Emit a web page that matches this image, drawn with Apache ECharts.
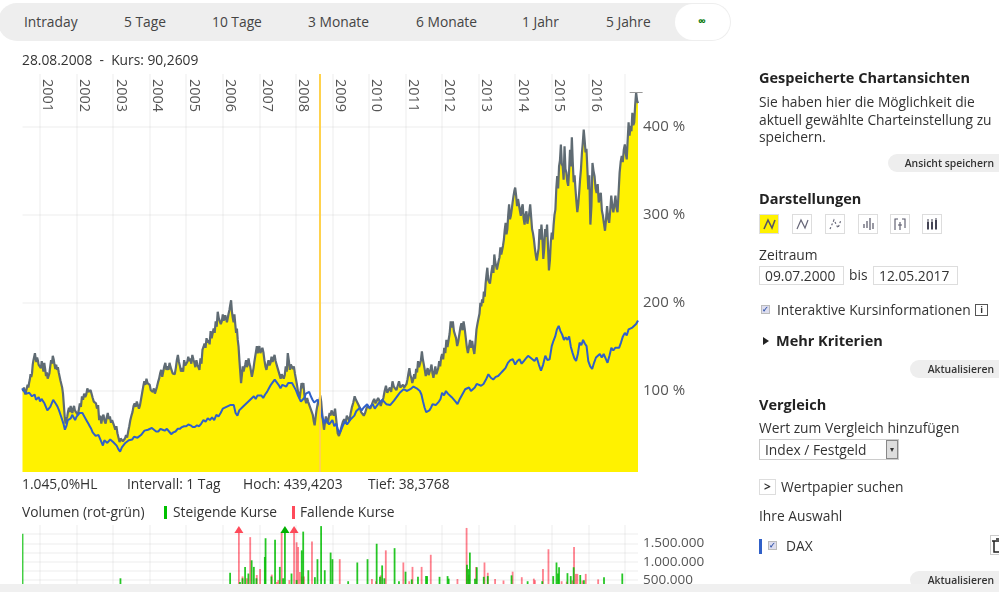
<!DOCTYPE html>
<html>
<head>
<meta charset="utf-8">
<script src="https://cdn.jsdelivr.net/npm/echarts@6/dist/echarts.min.js"></script>
<style>
html,body{margin:0;padding:0;background:#fff}
body{width:999px;height:592px;overflow:hidden;position:relative;font-family:"Open Sans",sans-serif;color:#333}
#chart{position:absolute;left:0;top:0;width:999px;height:592px}
.t{position:absolute;white-space:nowrap;line-height:20px;height:20px;font-size:13.8px}
.b{font-weight:700;color:#222;font-size:14.5px}
.tab{color:#444;top:12px}
.btn{position:absolute;background:#eee;border-radius:10px 0 0 10px;right:0;height:18px;font-size:10.4px;font-weight:600;line-height:18px;color:#333;text-align:right;padding-right:5px;box-sizing:border-box}
.inp{position:absolute;border:1px solid #ddd;box-sizing:border-box;height:19px;line-height:18px;font-size:13.8px;padding-left:5px;width:85px;top:266px}
.ic{position:absolute;top:214px;width:20px;height:20px;border:1px solid #ddd;box-sizing:border-box;background:#fff}
.cb{position:absolute;width:9px;height:9px;background:#dde;border:1px solid #bbb;box-sizing:border-box;color:#35a;font:700 8px/7px sans-serif;text-align:center}
</style>
</head>
<body>
<div id="chart"></div>

<div style="position:absolute;left:-2px;top:3px;width:733px;height:38px;background:#eee;border-radius:19px"></div>
<div style="position:absolute;left:675px;top:4px;width:55px;height:36px;background:#fff;border-radius:18px"></div>
<span class="t tab" style="left:24px">Intraday</span>
<span class="t tab" style="left:124px">5 Tage</span>
<span class="t tab" style="left:212px">10 Tage</span>
<span class="t tab" style="left:308px">3 Monate</span>
<span class="t tab" style="left:416px">6 Monate</span>
<span class="t tab" style="left:522px">1 Jahr</span>
<span class="t tab" style="left:606px">5 Jahre</span>
<span class="t" style="left:698px;top:11px;color:#0a7a0a;font-size:11px;font-weight:700">∞</span>

<span class="t" style="left:22px;top:50px">28.08.2008 &nbsp;-&nbsp; Kurs: 90,2609</span>
<span class="t" style="left:22px;top:474px">1.045,0%HL</span>
<span class="t" style="left:127px;top:474px">Intervall: 1 Tag</span>
<span class="t" style="left:243px;top:474px">Hoch: 439,4203</span>
<span class="t" style="left:368px;top:474px">Tief: 38,3768</span>
<span class="t" style="left:22px;top:502px">Volumen (rot-grün)</span>
<div style="position:absolute;left:164px;top:506px;width:3px;height:13px;background:#00c000"></div>
<span class="t" style="left:173px;top:502px">Steigende Kurse</span>
<div style="position:absolute;left:292px;top:506px;width:3px;height:13px;background:#ff4a5a"></div>
<span class="t" style="left:300px;top:502px">Fallende Kurse</span>

<span class="t b" style="left:759px;top:68px">Gespeicherte Chartansichten</span>
<span class="t" style="left:759px;top:92px">Sie haben hier die Möglichkeit die</span>
<span class="t" style="left:759px;top:110px">aktuell gewählte Charteinstellung zu</span>
<span class="t" style="left:759px;top:127px">speichern.</span>
<div class="btn" style="top:154px;width:111px">Ansicht speichern</div>

<span class="t b" style="left:759px;top:189px">Darstellungen</span>
<div class="ic" style="left:759px;background:#fff200"><svg width="18" height="18"><path d="M4 14 L8 5 L12 13 L15 5" fill="none" stroke="#556" stroke-width="1.6"/></svg></div>
<div class="ic" style="left:792px"><svg width="18" height="18"><path d="M4 14 L8 5 L12 13 L15 5" fill="none" stroke="#667" stroke-width="1.2"/></svg></div>
<div class="ic" style="left:825px"><svg width="18" height="18"><path d="M4 14 L8 5 L12 13 L15 5" fill="none" stroke="#667" stroke-width="1.2" stroke-dasharray="2 2"/></svg></div>
<div class="ic" style="left:858px"><svg width="18" height="18"><path d="M5 9V13M8 6V13M11 3V15M14 8V14" fill="none" stroke="#556" stroke-width="1.2"/></svg></div>
<div class="ic" style="left:890px"><svg width="18" height="18"><path d="M4 15V4H7M9 7V15M7 10H11M14 13V4H11" fill="none" stroke="#556" stroke-width="1.1"/></svg></div>
<div class="ic" style="left:922px"><svg width="18" height="18"><path d="M4 7H6V14H4ZM8 7H10V14H8ZM12 5H14V14H12Z" fill="#445"/><path d="M5 4V15M9 4V15M13 3V15" stroke="#445"/></svg></div>

<span class="t" style="left:759px;top:245px">Zeitraum</span>
<div class="inp" style="left:759px">09.07.2000</div>
<span class="t" style="left:849px;top:265px">bis</span>
<div class="inp" style="left:873px">12.05.2017</div>
<div class="cb" style="left:761px;top:305px">✓</div>
<span class="t" style="left:777px;top:300px">Interaktive Kursinformationen</span>
<div style="position:absolute;left:975px;top:304px;width:13px;height:12px;border:1px solid #555;box-sizing:border-box;font:700 9px/10px 'Open Sans';text-align:center">i</div>
<div style="position:absolute;left:763px;top:337px;border-left:6px solid #222;border-top:4px solid transparent;border-bottom:4px solid transparent"></div>
<span class="t b" style="left:776px;top:331px">Mehr Kriterien</span>
<div class="btn" style="top:360px;width:89px">Aktualisieren</div>

<span class="t b" style="left:759px;top:395px">Vergleich</span>
<span class="t" style="left:759px;top:418px">Wert zum Vergleich hinzufügen</span>
<div style="position:absolute;left:759px;top:439px;width:140px;height:21px;border:1px solid #ccc;box-sizing:border-box;line-height:20px;padding-left:5px;font-size:13.8px">Index / Festgeld</div>
<div style="position:absolute;left:886px;top:440px;width:12px;height:19px;background:#ddd;border:1px solid #888;box-sizing:border-box;font:8px/17px sans-serif;text-align:center">▾</div>
<div style="position:absolute;left:759px;top:479px;width:17px;height:16px;border:1px solid #ddd;box-sizing:border-box;font:700 12px/14px 'Open Sans';text-align:center">&gt;</div>
<span class="t" style="left:781px;top:477px">Wertpapier suchen</span>
<span class="t" style="left:759px;top:506px">Ihre Auswahl</span>
<div style="position:absolute;left:759px;top:539px;width:3px;height:15px;background:#3060c8"></div>
<div class="cb" style="left:768px;top:541px">✓</div>
<span class="t" style="left:786px;top:536px">DAX</span>
<div style="position:absolute;left:990px;top:535px;width:11px;height:20px;border:1px solid #ccc;box-sizing:border-box;background:#fff"><svg width="10" height="18"><path d="M1 5H10M3 5V16H10M5 3H10" fill="none" stroke="#222" stroke-width="1.5"/></svg></div>
<div class="btn" style="top:571px;width:89px">Aktualisieren</div>
<div style="position:absolute;left:0;top:584px;width:999px;height:8px;background:#f0f0f0"></div>

<script>
// Kurs (percent), one list per calendar year
var kurs2000 = [103,100,104,99,96,100,98,107,104,109,113,119,116,120,130,135,139,143,137,133,138,135,130,132]
var kurs2001 = [132,126,134,128,122,132,125,117,121,114,112,120,128,135,131,140,136,130,125,130,124,127,121,119,112,111,104,97,84,71,63,68,71,77,81,76,83,78,75,80,83,78,79]
var kurs2002 = [78,73,78,86,82,94,90,97,93,96,103,99,97,101,99,92,88,90,86,80,84,67,72,63,70,73,66,63,70,75,68,71,64,67]
var kurs2003 = [67,60,56,60,52,47,42,46,48,43,42,46,50,47,54,60,67,72,76,83,86,82,88,84,80,84,86,98,105,111,107,114,109,107]
var kurs2004 = [107,101,103,99,103,97,101,105,110,114,120,124,116,118,128,132,124,128,124,132,127,126,120,122,119,126,135,141,133,128,122,126,122,135,129]
var kurs2005 = [128,133,139,134,137,131,141,136,132,127,135,130,128,124,137,131,147,150,154,149,160,155,158,153,168,160,162,171,166,179,173,190,183,185,176,179]
var kurs2006 = [187,180,179,186,185,178,179,188,192,198,203,190,183,178,187,176,166,171,158,150,135,122,109,118,128,122,120,130,135,127,130,137,131,128,122,116,121,126,133,139,145,151,143,147]
var kurs2007 = [151,143,141,149,144,135,128,124,130,135,129,132,139,133,135,141,134,132,126,124,118,114,119,120,114,118,128,122,143,135,124,130,132,125,128,120]
var kurs2008 = [118,108,101,95,92,100,109,103,109,96,90,86,92,88,86,82,80,76,73,66,61,70,78,84,90,87,95,88,75,65,56,64,71,66,63,70,75,72,78]
var kurs2009 = [78,72,80,66,52,49,54,60,65,68,63,72,69,66,75,82,87,94,90,91,84,81,76,77,72,75,80,83]
var kurs2010 = [85,80,81,88,91,86,87,92,89,83,88,92,100,106,98,96,104,99,111,105,107,101,106,111,104,102,107,104]
var kurs2011 = [102,108,113,120,126,118,115,109,113,119,114,125,121,134,127,125,135,145,136,138,124,117,122,126,118,117,125,130,120,115,122,128,119,117,126,134,128,138]
var kurs2012 = [142,136,149,143,158,150,151,165,179,172,179,168,170,160,151,156,164,172,177,169,179,171,170,150,143,150,158,149,157,148,142,155,170,177]
var kurs2013 = [177,188,200,196,204,200,213,207,222,232,240,226,228,222,230,237,243,234,255,247,246,238,240,248,252,263,255,254,265,272,283,291,278,284,300,312,295,299,306,314,321,327]
var kurs2014 = [331,322,310,318,320,305,299,308,312,296,289,300,304,290,288,302,312,298,284,279,272,262,254,248,246,262,284,272,289,275,250,262,284,275,289,265,237,248,269]
var kurs2015 = [280,272,288,300,306,330,344,330,355,362,380,358,355,340,378,352,348,338,333,350,374,355,388,360,337,345,329,315,303,312,325,340,352,370,382,397,385,371,375,352]
var kurs2016 = [329,345,289,310,359,350,344,330,325,335,314,322,325,305,299,290,282,295,310,296,291,305,322,310,303,312,322,308,303,325,348,360,367,360,374]
var kurs2017 = [380,370,363,385,405,390,401,395,416,402,405,425,439,430,427]

// DAX compared (percent)
var dax2000 = [103,100,99,97,95,98,97,94,93,96,90,92,93]
var dax2001 = [88,91,92,86,82,78,76,82,86,90,88,85,82,78,73,68,63,56,60,67,65,69,73,70,67]
var dax2002 = [71,69,75,73,75,72,71,66,63,60,57,53,52,49,48,50,48,42,38,44,46,41,40,45,44]
var dax2003 = [42,40,38,34,31,36,38,41,40,44,46,45,48,50,47,46,50,52,55,54,56]
var dax2004 = [56,58,56,54,54,57,56,55,57,54,51,53,54,57,57,59,60]
var dax2005 = [60,62,61,59,59,61,60,63,67,65,69,67,70,67,73,71,75]
var dax2006 = [80,78,82,83,84,82,84,75,72,78,80,82,84,86,88,90,92,94,91,95]
var dax2007 = [97,95,92,96,99,103,107,110,113,111,107,103,107,109,105,109,107,109,111]
var dax2008 = [101,96,92,88,86,92,97,95,99,94,90,87,86,90,86,78,70,63,68,67,62,63]
var dax2009 = [67,60,63,56,52,57,62,66,62,64,68,66,72,77,79,81,78,81,83,85]
var dax2010 = [81,83,85,80,81,86,87,90,89,85,87,84,85,89,91,95,98,100,102]
var dax2011 = [104,100,98,102,104,105,106,103,104,100,96,88,81,76,74,78,81,85,87,84,83,88,91]
var dax2012 = [98,95,100,97,96,93,91,88,85,90,94,98,102,101,104,100,100,104,108]
var dax2013 = [109,106,108,113,119,115,113,116,117,120,123,126,132,135,136]
var dax2014 = [130,134,136,131,134,137,140,138,136,134,138,130,123,130,140,135,136]
var dax2015 = [151,157,162,170,174,168,164,158,161,158,162,150,143,137,134,142,155,152,158,154,151]
var dax2016 = [134,128,125,132,138,140,142,138,142,137,132,140,149,146,149,147,149,155,162]
var dax2017 = [166,163,170,168,172,171,176,180]

// Volumen: [decimal year, volume]
var steigend = [[2000.52,1760000],[2003.2,550000],[2006.2,700000],[2006.47,450000],[2006.54,550000],[2006.61,860000],[2006.7,680000],[2006.79,1040000],[2006.85,860000],[2006.92,550000],[2007.15,1130000],[2007.17,1640000],[2007.33,600000],[2007.43,1600000],[2007.56,860000],[2007.65,550000],[2007.7,1880000],[2007.88,680000],[2008.02,500000],[2008.16,1310000],[2008.2,1820000],[2008.34,770000],[2008.52,580000],[2008.59,1070000],[2008.69,1970000],[2008.79,770000],[2008.95,1250000],[2009,1070000],[2009.43,470000],[2009.68,980000],[2009.96,1070000],[2010.21,1490000],[2010.3,590000],[2010.36,900000],[2010.42,550000],[2010.7,1370000],[2010.82,470000],[2011,730000],[2011.17,520000],[2011.34,590000],[2011.56,610000],[2011.59,610000],[2011.93,590000],[2012.15,610000],[2012.18,540000],[2012.68,920000],[2012.72,800000],[2012.76,1250000],[2012.9,540000],[2012.95,850000],[2013.14,590000],[2013.25,610000],[2013.9,630000],[2014.34,470000],[2014.74,470000],[2015.04,610000],[2015.13,980000],[2015.17,680000],[2015.2,850000],[2015.43,690000],[2015.52,610000],[2015.6,850000],[2015.78,640000],[2015.88,500000],[2016.43,580000],[2016.93,680000]]
var fallend = [[2006.44,1880000],[2006.54,600000],[2006.66,550000],[2006.75,1670000],[2006.93,640000],[2007.02,800000],[2007.34,650000],[2007.48,450000],[2007.52,500000],[2007.61,1800000],[2007.82,500000],[2007.95,1880000],[2008.02,1530000],[2008.06,1400000],[2008.11,720000],[2008.16,600000],[2008.22,600000],[2008.44,1550000],[2009.2,1070000],[2010.08,530000],[2010.19,470000],[2010.32,630000],[2010.46,1310000],[2010.94,980000],[2011.1,470000],[2011.19,860000],[2011.44,860000],[2011.69,1190000],[2012.42,530000],[2012.67,1920000],[2012.73,650000],[2012.93,860000],[2013.16,980000],[2013.25,700000],[2013.45,530000],[2013.68,490000],[2013.93,730000],[2014.18,580000],[2014.51,540000],[2014.54,500000],[2014.76,800000],[2014.91,1340000],[2015.27,470000],[2015.41,460000],[2015.56,490000],[2015.61,1400000],[2015.66,670000],[2015.7,670000],[2015.84,490000],[2015.93,670000],[2016.27,520000]]
var pfeilRot = [[2006.44,1880000],[2007.95,1880000]]
var pfeilGruen = [[2007.7,1880000]]

var jahre = [2001,2002,2003,2004,2005,2006,2007,2008,2009,2010,2011,2012,2013,2014,2015,2016,2017]
var jahrLabels = [2001,2002,2003,2004,2005,2006,2007,2008,2009,2010,2011,2012,2013,2014,2015,2016]
var prozentTicks = [100,200,300,400]
var volumenLinien = [500000,750000,1000000,1250000,1500000,1750000]
var volumenLabels = [500000,1000000,1500000]
var markiert = 2008.66

var start = 2000.52, ende = 2017.36

// spread each year's readings evenly over that year
function reihe(listen) {
    var out = []
    listen.forEach(function (l, i) {
        var letzte = i == listen.length - 1
        var von = i == 0 ? start : 2000 + i
        var bis = letzte ? ende : 2001 + i
        l.forEach(function (v, j) {
            out.push([von + (bis - von) * j / (letzte ? l.length - 1 : l.length), v])
        })
    })
    return out
}
var kursDaten = reihe([kurs2000,kurs2001,kurs2002,kurs2003,kurs2004,kurs2005,kurs2006,kurs2007,kurs2008,kurs2009,kurs2010,kurs2011,kurs2012,kurs2013,kurs2014,kurs2015,kurs2016,kurs2017])
var daxDaten = reihe([dax2000,dax2001,dax2002,dax2003,dax2004,dax2005,dax2006,dax2007,dax2008,dax2009,dax2010,dax2011,dax2012,dax2013,dax2014,dax2015,dax2016,dax2017])

var linie = {show: true, lineStyle: {color: 'rgba(0,0,0,0.05)', width: 1.5}}
var fontFam = '"Open Sans", sans-serif'

var chart = echarts.init(document.getElementById('chart'))
chart.setOption({
    animation: false,
    grid: [
        {left: 22.5, top: 74, width: 615.5, height: 398, outerBoundsMode: 'none'},
        {left: 22.5, top: 525, width: 615.5, height: 73.5, outerBoundsMode: 'none'}
    ],
    xAxis: [
        {
            type: 'value', gridIndex: 0, min: start, max: ende, position: 'top', z: 3,
            axisLine: {show: false},
            axisTick: {show: false, customValues: jahre},
            splitLine: linie,
            axisLabel: {
                inside: true, rotate: 90, margin: 5, align: 'left', verticalAlign: 'bottom',
                customValues: jahrLabels, formatter: function (v) { return String(v) },
                color: '#555', fontSize: 14.5, fontFamily: fontFam
            }
        },
        {
            type: 'value', gridIndex: 1, min: start, max: ende, z: 3,
            axisLine: {show: false},
            axisTick: {show: false, customValues: jahre},
            axisLabel: {show: false},
            splitLine: linie
        }
    ],
    yAxis: [
        {
            type: 'value', gridIndex: 0, min: 8, max: 460, position: 'right', z: 3,
            axisLine: {show: false},
            axisTick: {show: false, customValues: prozentTicks},
            splitLine: linie,
            axisLabel: {
                customValues: prozentTicks, formatter: '{value} %', margin: 5,
                color: '#555', fontSize: 15, fontFamily: fontFam
            }
        },
        {
            type: 'value', gridIndex: 1, min: 0, max: 2000000, position: 'right', z: 3,
            axisLine: {show: false},
            axisTick: {show: false, customValues: volumenLinien},
            splitLine: linie,
            axisLabel: {
                customValues: volumenLabels, margin: 5, color: '#555', fontSize: 13.5, fontFamily: fontFam,
                formatter: function (v) { return String(v).replace(/\B(?=(\d{3})+$)/g, '.') }
            }
        }
    ],
    series: [
        {
            name: 'Kurs', type: 'line', data: kursDaten, showSymbol: false,
            lineStyle: {color: '#5f6b73', width: 2.2},
            itemStyle: {color: '#5f6b73'},
            areaStyle: {color: '#fff200', opacity: 1},
            markLine: {
                silent: true, symbol: 'none', label: {show: false},
                lineStyle: {color: '#ffd24d', width: 2, type: 'solid'},
                data: [{xAxis: markiert}]
            },
            markPoint: {
                silent: true, symbol: 'rect', symbolSize: [13, 1], label: {show: false},
                itemStyle: {color: '#999'},
                data: [{type: 'max'}]
            }
        },
        {
            name: 'DAX', type: 'line', data: daxDaten, showSymbol: false,
            lineStyle: {color: '#3060c8', width: 2},
            itemStyle: {color: '#3060c8'}
        },
        {
            name: 'Fallende Kurse', type: 'bar', xAxisIndex: 1, yAxisIndex: 1, data: fallend,
            barWidth: 1.8, barGap: '-100%', itemStyle: {color: 'rgba(255,60,80,0.65)'}
        },
        {
            name: 'Steigende Kurse', type: 'bar', xAxisIndex: 1, yAxisIndex: 1, data: steigend,
            barWidth: 1.8, barGap: '-100%', itemStyle: {color: 'rgba(0,190,0,0.85)'}
        },
        {
            type: 'scatter', xAxisIndex: 1, yAxisIndex: 1, data: pfeilRot, symbol: 'triangle',
            symbolSize: [9, 7], itemStyle: {color: '#ff4a5a', opacity: 1}, clip: false
        },
        {
            type: 'scatter', xAxisIndex: 1, yAxisIndex: 1, data: pfeilGruen, symbol: 'triangle',
            symbolSize: [9, 7], itemStyle: {color: '#00b000', opacity: 1}, clip: false
        }
    ]
})
</script>
</body>
</html>
